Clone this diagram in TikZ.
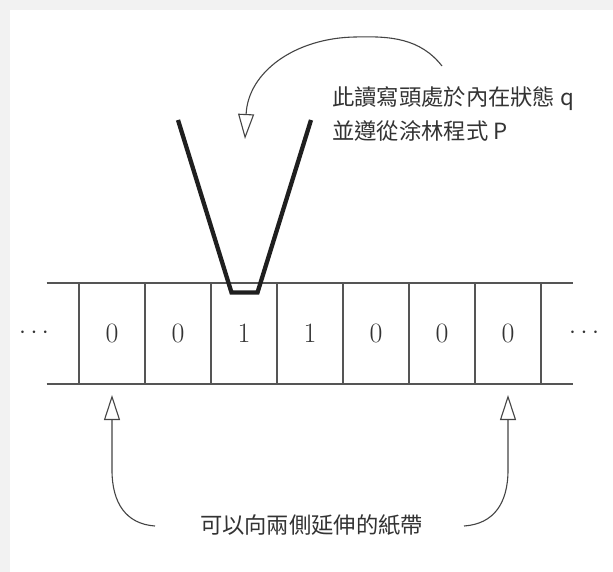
\documentclass[tikz,border=0pt]{standalone}
\usepackage{fontspec}
\newfontfamily\cjk{Noto Sans CJK TC}
\usetikzlibrary{arrows.meta}
\definecolor{tapeline}{HTML}{555555}
\definecolor{curveline}{HTML}{444444}
\definecolor{txt}{HTML}{333333}
\tikzset{
  tapeedge/.style={draw=tapeline, line width=1.3pt},
  cell/.style={draw=tapeline, line width=1.3pt, minimum width=66pt, minimum height=101pt,
    inner sep=0pt, outer sep=0pt, text=txt, font=\fontsize{28}{28}\selectfont},
  dots/.style={text=txt, font=\fontsize{25}{25}\selectfont, inner sep=0pt},
  headline/.style={draw=black!88, line width=4.3pt, line join=miter, line cap=butt},
  pointer/.style={draw=curveline, line width=1.1pt,
    -{Triangle[open, length=25pt, width=16pt, line width=1.1pt]}},
  note/.style={text=txt, font=\cjk\fontsize{22.3}{34}\selectfont, inner sep=0pt}
}
\begin{document}
\begin{tikzpicture}[x=1pt, y=-1pt]
\useasboundingbox (0,0) rectangle (613,572);
\fill[black!5] (0,0) rectangle (613,572);
\fill[white] (10,10) rectangle (613,572);

% tape cells
\node[cell] (c1) at (112,333.5) {0};
\node[cell] (c2) at (178,333.5) {0};
\node[cell] (c3) at (244,333.5) {1};
\node[cell] (c4) at (310,333.5) {1};
\node[cell] (c5) at (376,333.5) {0};
\node[cell] (c6) at (442,333.5) {0};
\node[cell] (c7) at (508,333.5) {0};

% tape extensions
\coordinate (tl1) at (46.5,283);
\coordinate (bl1) at (46.5,384);
\coordinate (tr1) at (573,283);
\coordinate (br1) at (573,384);
\draw[tapeedge] (tl1) -- (c1.north west);
\draw[tapeedge] (bl1) -- (c1.south west);
\draw[tapeedge] (c7.north east) -- (tr1);
\draw[tapeedge] (c7.south east) -- (br1);

\node[dots] (dl) at (34,333) {${\cdot}\hspace{4.6pt}{\cdot}\hspace{4.6pt}{\cdot}$};
\node[dots] (dr) at (584,333) {${\cdot}\hspace{4.6pt}{\cdot}\hspace{4.6pt}{\cdot}$};

% read/write head
\draw[headline] (178,120) -- (231.5,292.5) -- (257.5,292.5) -- (311,120);

% top note and arrow
\node[note, anchor=west, align=left] (hn) at (332,113.5)
  {此讀寫頭處於內在狀態 q\\並遵從涂林程式 P};
\coordinate (hs) at (442,66);
\coordinate (ht) at (245,139);
\draw[pointer] (hs) .. controls (420,38) and (390,36) .. (355,37)
  .. controls (295,38) and (248,72) .. (ht);

% bottom note and arrows
\node[note] (tn) at (311.5,525) {可以向兩側延伸的紙帶};
\coordinate (ls) at (155,526);
\coordinate (lt) at (112,395);
\coordinate (rs) at (464,526);
\coordinate (rt) at (508,395);
\draw[pointer] (ls) .. controls (126,524) and (112,503) .. (112,470) -- (lt);
\draw[pointer] (rs) .. controls (494,524) and (508,503) .. (508,470) -- (rt);
\end{tikzpicture}
\end{document}
